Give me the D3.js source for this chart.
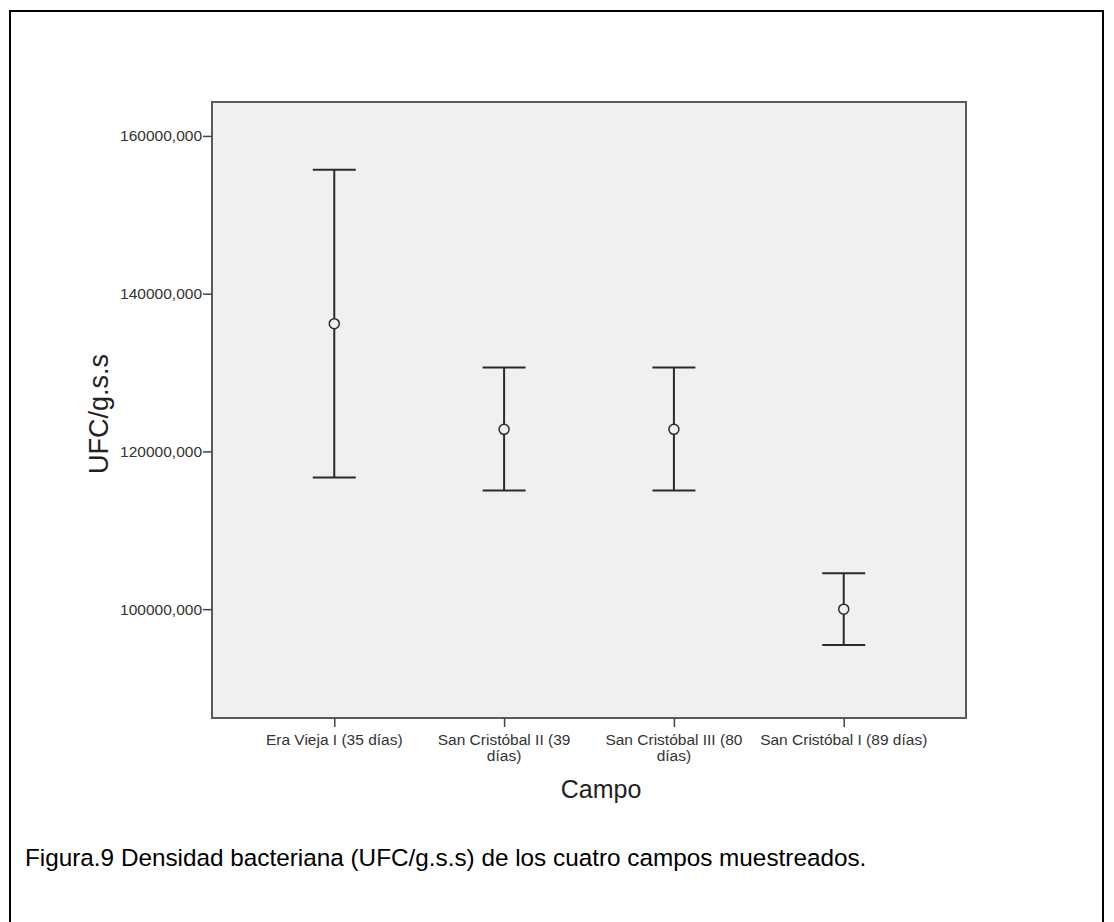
<!DOCTYPE html>
<html><head><meta charset="utf-8">
<script src="https://cdn.jsdelivr.net/npm/d3@7"></script>
<style>body{margin:0;background:#fff}svg{display:block}</style>
</head><body>
<svg id="c" width="1114" height="922"></svg>
<script>
const categories = ["Era Vieja I (35 días)", "San Cristóbal II (39 días)", "San Cristóbal III (80 días)", "San Cristóbal I (89 días)"];
const labelLines = [["Era Vieja I (35 días)"], ["San Cristóbal II (39", "días)"], ["San Cristóbal III (80", "días)"], ["San Cristóbal I (89 días)"]];
const means = [136200, 122800, 122800, 100000];
const lower = [116700, 115050, 115050, 95450];
const upper = [155700, 130650, 130650, 104550];
const yTicks = [100000, 120000, 140000, 160000];

const FONT = "Arial, 'Liberation Sans', sans-serif";
const svg = d3.select("#c");
const L = 212, R = 966, T = 102, B = 718;

svg.append("rect").attr("x", 10).attr("y", 11).attr("width", 1093).attr("height", 940)
  .attr("fill", "none").attr("stroke", "#000").attr("stroke-width", 2);

svg.append("rect").attr("x", L).attr("y", T).attr("width", R - L).attr("height", B - T)
  .attr("fill", "#f0f0f0").attr("stroke", "#5a5a5a").attr("stroke-width", 2);

const x = d3.scalePoint().domain(categories).range([L, R]).padding(0.72);
const y = d3.scaleLinear().domain([86200, 164300]).range([B, T]);

const yAxis = svg.append("g").attr("transform", `translate(${L},0)`)
  .call(d3.axisLeft(y).tickValues(yTicks).tickSize(9).tickSizeOuter(0)
    .tickFormat(d => d3.format("d")(d) + ",000"));
yAxis.select(".domain").remove();
yAxis.selectAll("line").attr("stroke", "#444").attr("stroke-width", 1.5);
yAxis.selectAll("text").attr("font-family", FONT)
  .attr("font-size", 15.5).attr("fill", "#333").attr("x", -10);

const xAxis = svg.append("g").attr("transform", `translate(0,${B})`)
  .call(d3.axisBottom(x).tickSize(9).tickSizeOuter(0).tickFormat(""));
xAxis.select(".domain").remove();
xAxis.selectAll("line").attr("stroke", "#444").attr("stroke-width", 1.5);

const lab = svg.append("g");
categories.forEach((c, i) => {
  const t = lab.append("text").attr("x", x(c)).attr("y", B + 27)
    .attr("text-anchor", "middle").attr("font-family", FONT)
    .attr("font-size", 15.5).attr("fill", "#333");
  labelLines[i].forEach((ln, j) => {
    t.append("tspan").attr("x", x(c)).attr("dy", j === 0 ? 0 : 16).text(ln);
  });
});

const g = svg.append("g").attr("stroke", "#2a2a2a").attr("stroke-width", 2).attr("fill", "none");
categories.forEach((c, i) => {
  const cx = x(c);
  g.append("line").attr("x1", cx).attr("x2", cx).attr("y1", y(upper[i])).attr("y2", y(lower[i]));
  g.append("line").attr("x1", cx - 21.5).attr("x2", cx + 21.5).attr("y1", y(upper[i])).attr("y2", y(upper[i]));
  g.append("line").attr("x1", cx - 21.5).attr("x2", cx + 21.5).attr("y1", y(lower[i])).attr("y2", y(lower[i]));
  g.append("circle").attr("cx", cx).attr("cy", y(means[i])).attr("r", 5).attr("fill", "#f0f0f0").attr("stroke-width", 1.5);
});

svg.append("text").attr("transform", `translate(108,414) rotate(-90)`)
  .attr("text-anchor", "middle").attr("font-family", FONT)
  .attr("font-size", 27).attr("fill", "#222").text("UFC/g.s.s");

svg.append("text").attr("x", 601).attr("y", 798)
  .attr("text-anchor", "middle").attr("font-family", FONT)
  .attr("font-size", 25).attr("fill", "#222").text("Campo");

svg.append("text").attr("x", 25).attr("y", 866)
  .attr("font-family", FONT)
  .attr("font-size", 24.3).attr("fill", "#000")
  .text("Figura.9 Densidad bacteriana (UFC/g.s.s) de los cuatro campos muestreados.");
</script>
</body></html>
